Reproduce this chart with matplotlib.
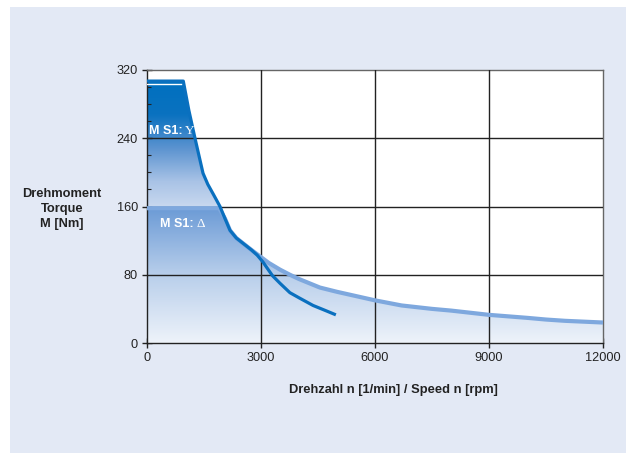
import numpy as np
import matplotlib
matplotlib.use('Agg')
import matplotlib.pyplot as plt
from matplotlib.patches import Rectangle, Polygon
from matplotlib.colors import LinearSegmentedColormap

plt.rcParams['font.family'] = ['Liberation Sans', 'DejaVu Sans']

# Daten
speed_y = [0, 955, 1100, 1263, 1474, 1600, 1750, 1921, 2050, 2184, 2350, 2550, 2750,
           2900, 3050, 3300, 3500, 3760, 4000, 4370, 4700, 4970]
torque_y = [307, 307, 273, 240, 199, 186, 174, 160, 146, 132, 123, 116, 109,
            103, 95, 79, 70, 59, 53, 44, 38, 33]

speed_d = [0, 1900, 2050, 2184, 2350, 2550, 2750, 2900, 3200, 3500, 3760, 4000, 4550,
           5000, 5500, 6000, 6700, 7500, 8000, 9000, 10000, 10500, 11000, 12000]
torque_d = [158, 158, 146, 132, 123, 116, 109, 104, 94, 86, 80, 75, 65,
            60, 55, 50, 44, 40, 38, 33, 29.5, 27.5, 26, 24]

x_ticks = [0, 3000, 6000, 9000, 12000]
y_ticks = [0, 80, 160, 240, 320]

fig = plt.figure(figsize=(6.38, 4.53), dpi=100)
fig.patch.set_facecolor('white')
fig.patches.append(Rectangle((10 / 638, 0), 616 / 638, 446 / 453,
                             transform=fig.transFigure, facecolor='#e3e9f5',
                             edgecolor='none', zorder=-10))

ax = fig.add_axes([147 / 638, (453 - 343) / 453, 456 / 638, 273 / 453])
ax.set_facecolor('white')
ax.set_xlim(0, 12000)
ax.set_ylim(0, 320)

# Verlaufsflächen
cmap_y = LinearSegmentedColormap.from_list('y', ['#d2dff2', '#a9c3e6', '#5b93d0', '#0a72c0', '#0070bf'])
cmap_d = LinearSegmentedColormap.from_list('d', ['#eef3fa', '#b9cfeb', '#6c9bd6'])

grad = np.linspace(0, 1, 256).reshape(-1, 1)
poly_y = Polygon(list(zip(speed_y, torque_y)) + [(speed_y[-1], 0), (0, 0)],
                 closed=True, transform=ax.transData)
im_y = ax.imshow(grad, cmap=cmap_y, origin='lower', aspect='auto',
                 extent=(0, 12000, 150, 307), zorder=1)
im_y.set_clip_path(poly_y)

poly_d = Polygon(list(zip(speed_d, torque_d)) + [(12000, 0), (0, 0)],
                 closed=True, transform=ax.transData)
im_d = ax.imshow(grad, cmap=cmap_d, origin='lower', aspect='auto',
                 extent=(0, 12000, 0, 158), zorder=2)
im_d.set_clip_path(poly_d)

# Gitter
for v in x_ticks[1:-1]:
    ax.axvline(v, color='#222222', lw=1, zorder=3)
for v in y_ticks[1:-1]:
    ax.axhline(v, color='#222222', lw=1, zorder=3)

# Kennlinien
ax.plot(speed_d, torque_d, color='#7ea8de', lw=3, solid_capstyle='butt',
        solid_joinstyle='round', zorder=4)
ax.plot(speed_y, torque_y, color='#0a70bf', lw=2.3, solid_capstyle='butt',
        solid_joinstyle='round', zorder=5)
ax.plot([0, 900], [303.5, 303.5], color='white', lw=1, zorder=6)

# Beschriftungen in der Fläche
ax.text(40, 248, 'M S1:', color='white', fontsize=9, fontweight='bold', va='center', zorder=7)
ax.text(1000, 248, 'Y', color='white', fontsize=9.5, family=['Liberation Serif', 'DejaVu Serif'],
        va='center', zorder=7)
ax.text(340, 139, 'M S1:', color='white', fontsize=9, fontweight='bold', va='center', zorder=7)
ax.text(1310, 139, '\u0394', color='white', fontsize=9.5, family=['Liberation Serif', 'DejaVu Serif'],
        va='center', zorder=7)

ax.set_xticks(x_ticks)
ax.set_yticks(y_ticks)
ax.set_xticks(np.arange(0, 12001, 500), minor=True)
ax.set_yticks(np.arange(0, 321, 20), minor=True)
ax.tick_params(which='major', direction='inout', length=7, width=1, labelsize=9.2,
               colors='#222222', pad=3)
ax.tick_params(which='minor', direction='in', length=3, width=0.8, color='#222222')
for s in ax.spines.values():
    s.set_color('#222222')
    s.set_linewidth(1)
ax.spines['top'].set_color('#666666')
ax.spines['right'].set_color('#666666')

fig.text(62 / 638, 1 - 209 / 453, 'Drehmoment\nTorque\nM [Nm]', ha='center', va='center',
         fontsize=9.3, fontweight='bold', color='#222222', linespacing=1.35)
fig.text(393 / 638, 1 - 390 / 453, 'Drehzahl n [1/min] / Speed n [rpm]', ha='center',
         va='center', fontsize=9.3, fontweight='bold', color='#222222')

fig.savefig('out.png', dpi=100, facecolor='white')
